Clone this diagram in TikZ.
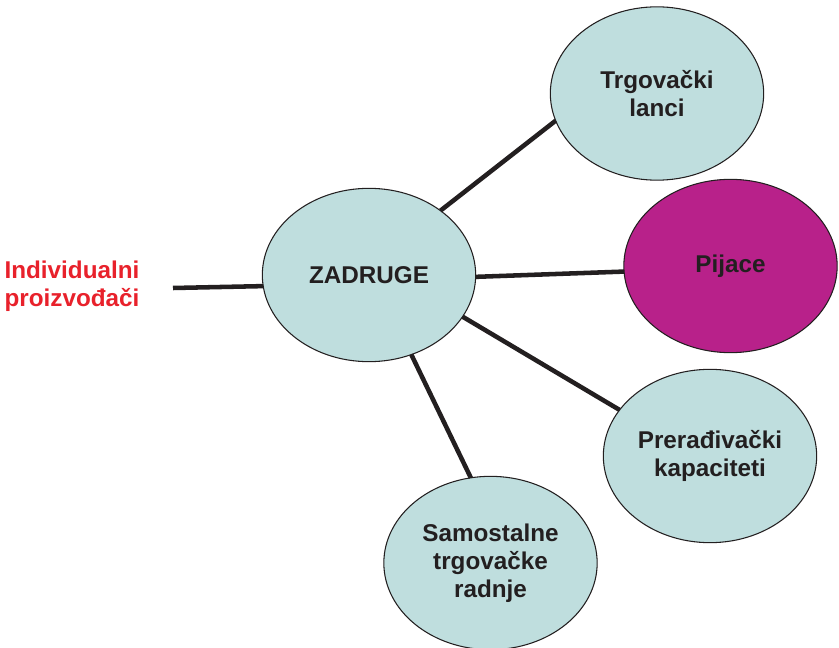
\documentclass[tikz,border=0pt]{standalone}
\usepackage{fontspec}
\setmainfont{Liberation Sans}
\usetikzlibrary{shapes.geometric}
\definecolor{lightfill}{RGB}{191,222,222}
\definecolor{magentafill}{RGB}{184,33,138}
\definecolor{darktext}{RGB}{35,31,32}
\definecolor{redtext}{RGB}{232,33,43}
\tikzset{
  bubble/.style={ellipse, draw=darktext, line width=0.8pt, fill=lightfill,
    minimum width=160pt, minimum height=130pt, inner sep=0pt, outer sep=0pt,
    align=center, text=darktext,
    font=\fontsize{18.2pt}{21pt}\selectfont\bfseries},
  link/.style={draw=darktext, line width=3.4pt},
}
\begin{document}
\begin{tikzpicture}[x=0.75pt, y=-0.75pt]
\useasboundingbox (0,0) rectangle (839,648);
\node[bubble] (z) at (369,275) {ZADRUGE};
\node[bubble] (t) at (657,93.5) {Trgovački\\lanci};
\node[bubble, fill=magentafill] (p) at (730.5,266) {Pijace};
\node[bubble] (r) at (710,456) {Prerađivački\\kapaciteti};
\node[bubble] (s) at (490.5,563) {Samostalne\\trgovačke\\radnje};
\node[align=center, text=redtext, inner sep=0pt,
  font=\fontsize{18.2pt}{21pt}\selectfont\bfseries] (ind) at (72,286) {Individualni\\proizvođači};
\coordinate (ie) at (173,288);
\draw[link] (ie) -- (z.186.8);
\draw[link] (z.42.5) -- (t.195.8);
\draw[link] (z.-1) -- (p.183.8);
\draw[link] (z.-24.5) -- (r.153);
\draw[link] (z.-62.9) -- (s.103.4);
\end{tikzpicture}
\end{document}
